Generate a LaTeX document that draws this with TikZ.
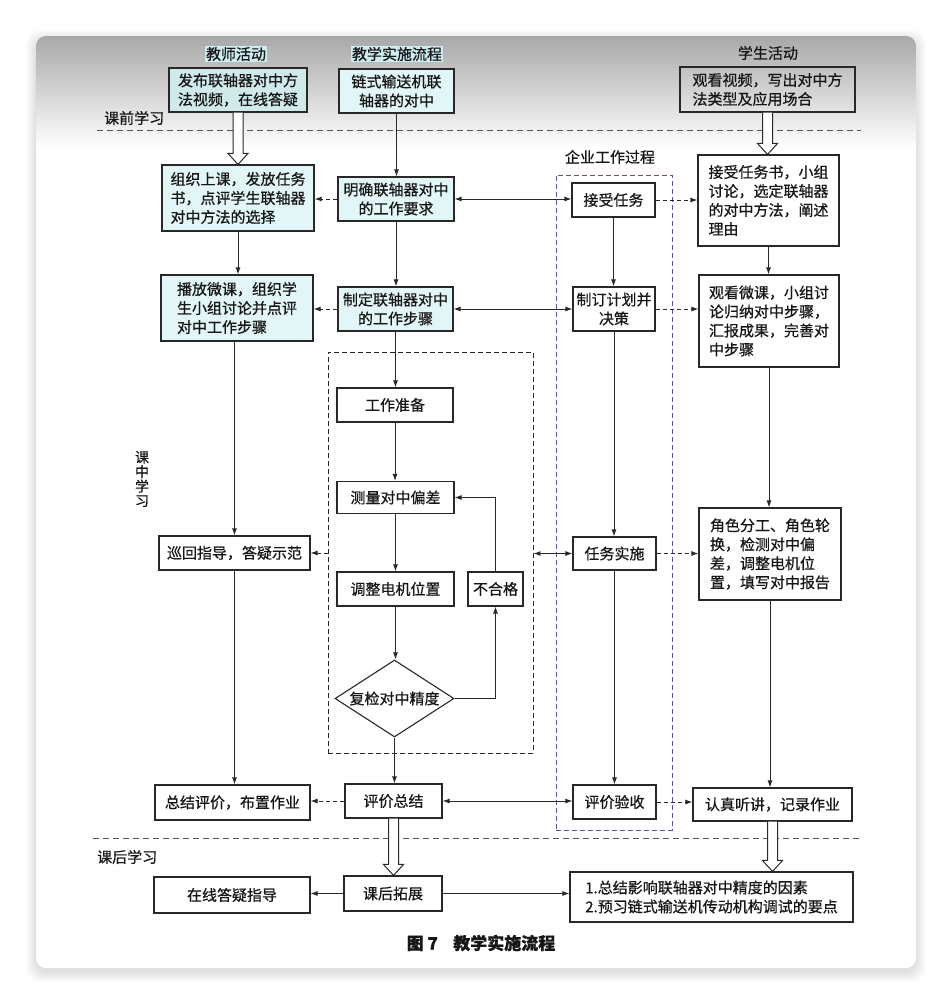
\documentclass[tikz,border=0pt]{standalone}
\usepackage{fontspec}
\setmainfont{Noto Sans CJK SC}[FakeBold=0.6]
\usetikzlibrary{arrows.meta,shapes.geometric,calc}
\definecolor{boxcyan}{RGB}{226,245,247}
\definecolor{boxcyan2}{RGB}{208,234,236}
\definecolor{hdrcyan}{RGB}{204,236,240}
\definecolor{linegray}{RGB}{40,40,40}
\definecolor{entblue}{RGB}{85,85,165}
\definecolor{sepgray}{RGB}{85,85,85}
\definecolor{txt}{RGB}{22,22,22}
\tikzset{
 flowbox/.style={draw=linegray, line width=1.1pt, fill=white, inner sep=0pt, align=left, font=\fontsize{15}{19}\selectfont, text=txt},
 cflowbox/.style={flowbox, fill=boxcyan},
 arr/.style={draw=linegray, line width=1pt, -{Latex[length=7pt,width=5pt]}},
 darr/.style={arr, dash pattern=on 4pt off 3pt},
 biarr/.style={draw=linegray, line width=1pt, {Latex[length=7pt,width=5pt]}-{Latex[length=7pt,width=5pt]}},
 grp/.style={draw=linegray, line width=0.9pt, dash pattern=on 5pt off 3pt, inner sep=0pt},
 entgrp/.style={draw=entblue, line width=0.9pt, dash pattern=on 5pt off 3pt, inner sep=0pt},
 lbl/.style={font=\fontsize{15}{18}\selectfont, text=txt, inner sep=1pt},
 hollowarrow/.style={draw=linegray, line width=1pt, fill=white},
 sepline/.style={draw=sepgray, line width=1pt, dash pattern=on 6pt off 4pt},
}
\newcommand\hollowarr[2]{%
 \draw[hollowarrow] let \p1=(#1), \p2=(#2) in
  (\x1-5pt,\y1) -- (\x1-5pt,\y2+11pt) -- (\x1-10pt,\y2+11pt) -- (\x1,\y2) -- (\x1+10pt,\y2+11pt) -- (\x1+5pt,\y2+11pt) -- (\x1+5pt,\y1);}
\begin{document}
\begin{tikzpicture}[x=1pt,y=-1pt]
\useasboundingbox (0,0) rectangle (952,1004);
% page and card
\fill[white] (0,0) rectangle (952,1004);
\foreach \i in {1,...,10} \fill[black, opacity=0.012, rounded corners=14pt] (36-\i,36-\i+4) rectangle (916+\i,968+\i+4);
\fill[white, rounded corners=10pt] (36,36) rectangle (916,968);
\begin{scope}
 \clip[rounded corners=10pt] (36,36) rectangle (916,968);
 \shade[top color=black!34, bottom color=white] (36,36) rectangle (916,148);
\end{scope}
% separators
\draw[sepline] (97,130) -- (861,130);
\draw[sepline] (93,838) -- (860,838);
% labels
\node[lbl, fill=hdrcyan] (h1) at (236,54) {教师活动};
\node[lbl, fill=hdrcyan] (h2) at (397,54) {教学实施流程};
\node[lbl] (h3) at (768,53) {学生活动};
\node[lbl, anchor=west] (p1) at (103,118) {课前学习};
\node[lbl, align=center, font=\fontsize{14}{14.5}\selectfont] (p2) at (142,479) {课\\中\\学\\习};
\node[lbl, anchor=west] (p3) at (96,857) {课后学习};
\node[lbl] (entlbl) at (610,157) {企业工作过程};
% groups
\node[grp, minimum width=205pt, minimum height=401pt] (inner) at (430.5,552.5) {};
\node[entgrp, minimum width=116pt, minimum height=655pt] (ent) at (614,502.5) {};
% row 0
\node[flowbox, fill=boxcyan2, minimum width=138pt, minimum height=44pt] (t0) at (238,90) {发布联轴器对中方\\法视频，在线答疑};
\node[cflowbox, align=center, minimum width=115pt, minimum height=44pt] (m0) at (396.5,91) {链式输送机联\\轴器的对中};
\node[flowbox, fill=none, minimum width=175pt, minimum height=45pt] (s0) at (767.5,89.5) {观看视频，写出对中方\\法类型及应用场合};
% row 1
\node[cflowbox, minimum width=152pt, minimum height=66pt] (t1) at (238,198) {组织上课，发放任务\\书，点评学生联轴器\\对中方法的选择};
\node[cflowbox, align=center, minimum width=116pt, minimum height=44pt] (m1) at (396,199) {明确联轴器对中\\的工作要求};
\node[flowbox, minimum width=83pt, minimum height=34pt] (e1) at (613.5,200) {接受任务};
\node[flowbox, minimum width=141pt, minimum height=91pt] (s1) at (768.5,200.5) {接受任务书，小组\\讨论，选定联轴器\\的对中方法，阐述\\理由};
% row 2
\node[cflowbox, minimum width=152pt, minimum height=66pt] (t2) at (237,308) {播放微课，组织学\\生小组讨论并点评\\对中工作步骤};
\node[cflowbox, align=center, minimum width=115pt, minimum height=44pt] (m2) at (395.5,309) {制定联轴器对中\\的工作步骤};
\node[flowbox, align=center, minimum width=82pt, minimum height=44pt] (e2) at (614,309) {制订计划并\\决策};
\node[flowbox, minimum width=140pt, minimum height=92pt] (s2) at (769,321) {观看微课，小组讨\\论归纳对中步骤，\\汇报成果，完善对\\中步骤};
% inner process
\node[flowbox, minimum width=116pt, minimum height=34pt] (w1) at (395,405) {工作准备};
\node[flowbox, minimum width=117pt, minimum height=32pt] (w2) at (395.5,497.5) {测量对中偏差};
\node[flowbox, minimum width=117pt, minimum height=34pt] (w3) at (395.5,589) {调整电机位置};
\node[flowbox, minimum width=55pt, minimum height=34pt] (ng) at (495.5,589) {不合格};
\node[flowbox, diamond, aspect=1.55, minimum width=119pt, minimum height=77pt] (d) at (394.5,698.5) {复检对中精度};
% row 3
\node[flowbox, minimum width=151pt, minimum height=34pt] (t3) at (234.5,553) {巡回指导，答疑示范};
\node[flowbox, minimum width=83pt, minimum height=33pt] (e3) at (614.5,553.5) {任务实施};
\node[flowbox, minimum width=142pt, minimum height=92pt] (s3) at (770,554) {角色分工、角色轮\\换，检测对中偏\\差，调整电机位\\置，填写对中报告};
% row 4
\node[flowbox, minimum width=155pt, minimum height=35pt] (t4) at (232.5,802.5) {总结评价，布置作业};
\node[flowbox, minimum width=97pt, minimum height=34pt] (m3) at (393.5,801) {评价总结};
\node[flowbox, minimum width=83pt, minimum height=34pt] (e4) at (614.5,802) {评价验收};
\node[flowbox, minimum width=159pt, minimum height=33pt] (s4) at (772.5,804.5) {认真听讲，记录作业};
% row 5
\node[flowbox, minimum width=156pt, minimum height=36pt] (t5) at (232,895) {在线答疑指导};
\node[flowbox, minimum width=98pt, minimum height=35pt] (m4) at (393,893.5) {课后拓展};
\node[flowbox, minimum width=283pt, minimum height=50pt] (b3) at (711.5,897) {1.总结影响联轴器对中精度的因素\\2.预习链式输送机传动机构调试的要点};
% caption
\node[font=\fontsize{17}{20}\selectfont\bfseries, text=txt] (cap) at (481,943) {图 7\hspace{0.9em}教学实施流程};
% connectors
\hollowarr{t0.south}{t1.north}
\hollowarr{s0.south}{s1.north}
\hollowarr{m3.south}{m4.north}
\hollowarr{s4.south}{s4.south |- b3.north}
\draw[arr] (m0.south) -- (m0.south |- m1.north);
\draw[biarr] (m1.east) -- (m1.east -| e1.west);
\draw[darr] (m1.west) -- (m1.west -| t1.east);
\draw[darr] (e1.east) -- (e1.east -| s1.west);
\draw[arr] (t1.south) -- (t1.south |- t2.north);
\draw[arr] (m1.south) -- (m1.south |- m2.north);
\draw[arr] (e1.south) -- (e1.south |- e2.north);
\draw[arr] (s1.south) -- (s1.south |- s2.north);
\draw[biarr] (m2.east) -- (m2.east -| e2.west);
\draw[darr] (m2.west) -- (m2.west -| t2.east);
\draw[darr] (e2.east) -- (e2.east -| s2.west);
\draw[arr] (m2.south) -- (m2.south |- w1.north);
\draw[arr] (w1.south) -- (w1.south |- w2.north);
\draw[arr] (w2.south) -- (w2.south |- w3.north);
\draw[arr] (w3.south) -- (w3.south |- d.north);
\draw[arr] (d.east) -| (ng.south);
\draw[arr] (ng.north) |- (w2.east);
\draw[arr] (d.south) -- (d.south |- m3.north);
\draw[arr] (t3.north |- t2.south) -- (t3.north);
\draw[darr] (inner.west |- t3.east) -- (t3.east);
\draw[biarr] (e3.west) -- (e3.west -| inner.east);
\draw[arr] (e2.south) -- (e2.south |- e3.north);
\draw[darr] (e3.east) -- (e3.east -| s3.west);
\draw[arr] (s2.south) -- (s2.south |- s3.north);
\draw[arr] (t3.south) -- (t3.south |- t4.north);
\draw[arr] (e3.south) -- (e3.south |- e4.north);
\draw[arr] (s3.south) -- (s3.south |- s4.north);
\draw[darr] (m3.west) -- (m3.west -| t4.east);
\draw[biarr] (m3.east) -- (m3.east -| e4.west);
\draw[darr] (e4.east) -- (e4.east -| s4.west);
\draw[arr] (m4.west) -- (m4.west -| t5.east);
\draw[arr] (m4.east) -- (m4.east -| b3.west);
\end{tikzpicture}
\end{document}
